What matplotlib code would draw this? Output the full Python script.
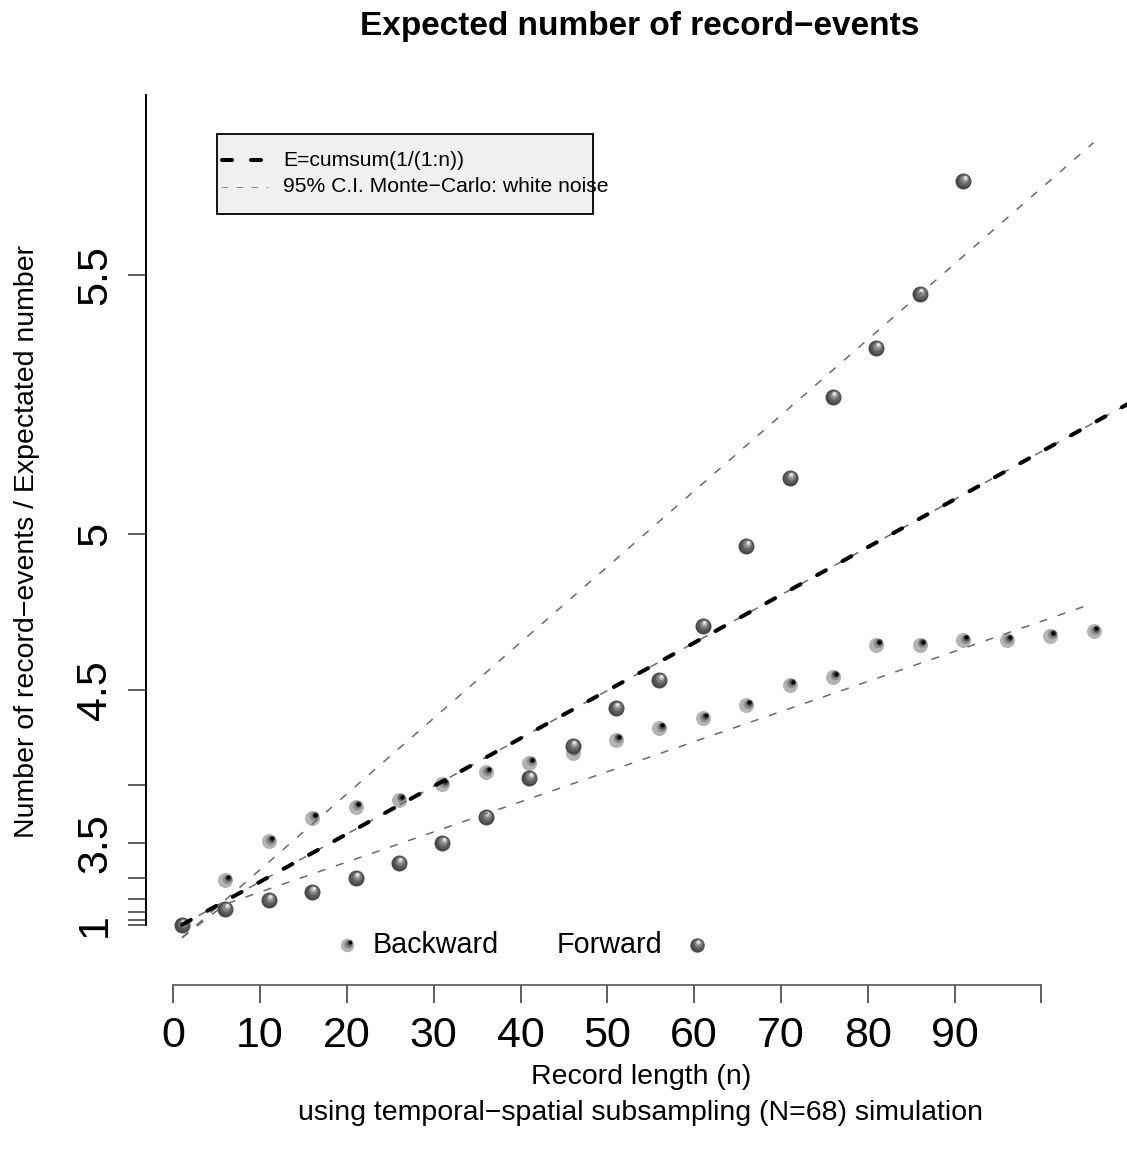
import numpy as np
import matplotlib
matplotlib.use("Agg")
import matplotlib.pyplot as plt
from matplotlib.transforms import offset_copy
from matplotlib.lines import Line2D
from matplotlib.patches import Rectangle
from matplotlib.ticker import FixedLocator, FixedFormatter, NullLocator

plt.rcParams['font.family'] = ['Liberation Sans', 'DejaVu Sans']

# ---- data -------------------------------------------------------------
record_length = [1, 6, 11, 16, 21, 26, 31, 36, 41, 46, 51,
                 56, 61, 66, 71, 76, 81, 86, 91, 96, 101, 106]
backward = [1.000, 2.961, 3.522, 3.748, 3.840, 3.895, 4.009, 4.087,
            4.142, 4.200, 4.270, 4.330, 4.378, 4.437, 4.522, 4.554,
            4.672, 4.672, 4.689, 4.689, 4.703, 4.719]
forward_length = record_length[:19]
forward = [1.000, 2.139, 2.474, 2.698, 3.000, 3.246, 3.500, 3.757,
           4.049, 4.238, 4.424, 4.542, 4.736, 4.968, 5.131, 5.295,
           5.383, 5.471, 5.634]

ci_upper_x = [1, 106]
ci_upper = [-0.754, 5.684]
ci_lower_x = [1, 6, 106]
ci_lower = [-0.754, 2.340, 4.808]

n_expected = np.arange(1, 121)
expected = np.cumsum(1.0 / n_expected)          # E = cumsum(1/(1:n))

y_ticks = [1, 1.5, 2, 2.5, 3, 3.5, 4, 4.5, 5, 5.5]
y_labels = ['1', '', '', '', '', '3.5', '', '4.5', '5', '5.5']
x_ticks = list(range(0, 101, 10))
x_labels = [str(v) for v in range(0, 91, 10)] + ['']

# ---- y scale: record counts drawn on the harmonic-number scale ----------
EULER = 0.5772156649015329


def harmonic(n):
    """Continuous harmonic number psi(n+1)+gamma, linear below n=1."""
    n = np.atleast_1d(np.asarray(n, dtype=float))
    out = np.empty_like(n)
    hi = n >= 1
    x = n[hi]
    m = 8
    y = x + 1 + m
    psi = (np.log(y) - 1 / (2 * y) - 1 / (12 * y ** 2)
           + 1 / (120 * y ** 4) - 1 / (252 * y ** 6))
    for j in range(m):
        psi -= 1 / (x + 1 + j)
    out[hi] = psi + EULER
    lo = ~hi
    out[lo] = 1 + (n[lo] - 1) * (np.pi ** 2 / 6 - 1)
    return out


_n_grid = np.linspace(-60, 600, 66001)
_h_grid = harmonic(_n_grid)


def to_length(h):
    return np.interp(h, _h_grid, _n_grid)


def to_count(n):
    return np.interp(n, _n_grid, _h_grid)


# ---- figure -------------------------------------------------------------
W, H = 1127, 1162
fig = plt.figure(figsize=(W / 100, H / 100), dpi=100)
left_px, right_px, top_px, bottom_px = 145.5, 1130.0, 95.0, 985.0
ax = fig.add_axes([left_px / W, 1 - bottom_px / H,
                   (right_px - left_px) / W, (bottom_px - top_px) / H])
ax.set_yscale('function', functions=(to_length, to_count))
ax.set_xlim(-3.2, 110.2)
y_bottom = float(to_count(-11.6))
y_top = float(to_count(174.6))
ax.set_ylim(y_bottom, y_top)


def sphere(x, y, layers, zorder, transform):
    for diam, color, dx, dy in layers:
        tr = offset_copy(transform, fig=fig, x=dx, y=dy, units='dots')
        ax.scatter(x, y, s=(0.72 * diam) ** 2, c=color, transform=tr,
                   linewidths=0, zorder=zorder, clip_on=False)


back_layers = [(15, '#b4b4b4', 0, 0), (9.5, '#8e8e8e', 1.6, 1.6),
               (6.5, '#555555', 2.4, 2.6), (4.2, '#000000', 2.9, 3.2)]
fwd_layers = [(16, '#484848', 0, 0), (12.5, '#5e5e5e', 0.6, 1.0),
              (8.5, '#858585', 1.0, 2.2), (5, '#bdbdbd', 1.3, 3.2),
              (2.5, '#f2f2f2', 1.4, 3.8)]

sphere(record_length, backward, back_layers, 3, ax.transData)
sphere(forward_length, forward, fwd_layers, 4, ax.transData)

# Monte-Carlo bounds, Monte-Carlo centre and the expected number
grey_style = dict(color='#6a6a6a', lw=1.1, dashes=(5.3, 7.2), zorder=5)
ax.plot(ci_upper_x, ci_upper, **grey_style)
ax.plot(ci_lower_x, ci_lower, **grey_style)
ax.plot(n_expected, expected, **grey_style)
ax.plot(n_expected, expected, color='black', lw=2.9,
        dashes=(2.5, 4.7), dash_capstyle='round', zorder=6)

# ---- axes styling -------------------------------------------------------
for s in ('top', 'right'):
    ax.spines[s].set_visible(False)
ax.spines['left'].set_bounds(1, y_top)
ax.spines['bottom'].set_bounds(0, 100)
ax.spines['left'].set_linewidth(1.4)
ax.spines['bottom'].set_linewidth(1.2)
ax.spines['bottom'].set_color('#555555')

ax.yaxis.set_major_locator(FixedLocator(y_ticks))
ax.yaxis.set_major_formatter(FixedFormatter(y_labels))
ax.yaxis.set_minor_locator(NullLocator())
ax.xaxis.set_major_locator(FixedLocator(x_ticks))
ax.xaxis.set_major_formatter(FixedFormatter(x_labels))
ax.xaxis.set_minor_locator(NullLocator())
ax.tick_params(axis='both', length=13, width=1.1, labelsize=31, pad=9,
               color='#333333')
ax.tick_params(axis='y', labelrotation=90)
for lab in ax.get_yticklabels():
    lab.set_va('center')

# ---- text ---------------------------------------------------------------
fig.text(640 / W, 1 - 26 / H, 'Expected number of record\u2212events',
         ha='center', va='center', fontsize=24, fontweight='bold')
fig.text(641 / W, 1 - 1077 / H, 'Record length (n)',
         ha='center', va='center', fontsize=20.5)
fig.text(641 / W, 1 - 1113 / H,
         'using temporal\u2212spatial subsampling (N=68) simulation',
         ha='center', va='center', fontsize=20.5)
fig.text(27 / W, 1 - 542 / H,
         'Number of record\u2212events / Expectated number',
         ha='center', va='center', rotation=90, fontsize=20.5)

# ---- legend: lines ------------------------------------------------------
fig.patches.append(Rectangle((217 / W, 1 - 214 / H), 376 / W, 80 / H,
                             transform=fig.transFigure, facecolor='#f0f0f0',
                             edgecolor='black', linewidth=1.3, zorder=1))
fig.lines.append(Line2D([222 / W, 268 / W], [1 - 160 / H] * 2,
                        transform=fig.transFigure, color='black', lw=2.9,
                        dashes=(2.5, 4.7), dash_capstyle='round', zorder=2))
fig.lines.append(Line2D([221 / W, 268 / W], [1 - 187 / H] * 2,
                        transform=fig.transFigure, color='#777777', lw=0.6,
                        dashes=(8, 10), zorder=2))
fig.text(283 / W, 1 - 160 / H, 'E=cumsum(1/(1:n))', ha='left', va='center',
         fontsize=15.2, zorder=3)
fig.text(283 / W, 1 - 187 / H, '95% C.I. Monte\u2212Carlo: white noise',
         ha='left', va='center', fontsize=15.2, zorder=3)


# ---- legend: points -----------------------------------------------------
def fig_sphere(xp, yp, layers):
    for diam, color, dx, dy in layers:
        tr = offset_copy(fig.transFigure, fig=fig, x=dx, y=dy, units='dots')
        ax.scatter([xp / W], [1 - yp / H], s=(0.72 * diam) ** 2, c=color,
                   transform=tr, linewidths=0, zorder=7, clip_on=False)


fig_sphere(347, 945, [(d * 0.9, c, dx * 0.9, dy * 0.9)
                      for d, c, dx, dy in back_layers])
fig_sphere(697, 945, [(d * 0.9, c, dx * 0.9, dy * 0.9)
                      for d, c, dx, dy in fwd_layers])
fig.text(373 / W, 1 - 945 / H, 'Backward', ha='left', va='center',
         fontsize=20.7)
fig.text(557 / W, 1 - 945 / H, 'Forward', ha='left', va='center',
         fontsize=20.7)

fig.savefig('out.png', dpi=100)
